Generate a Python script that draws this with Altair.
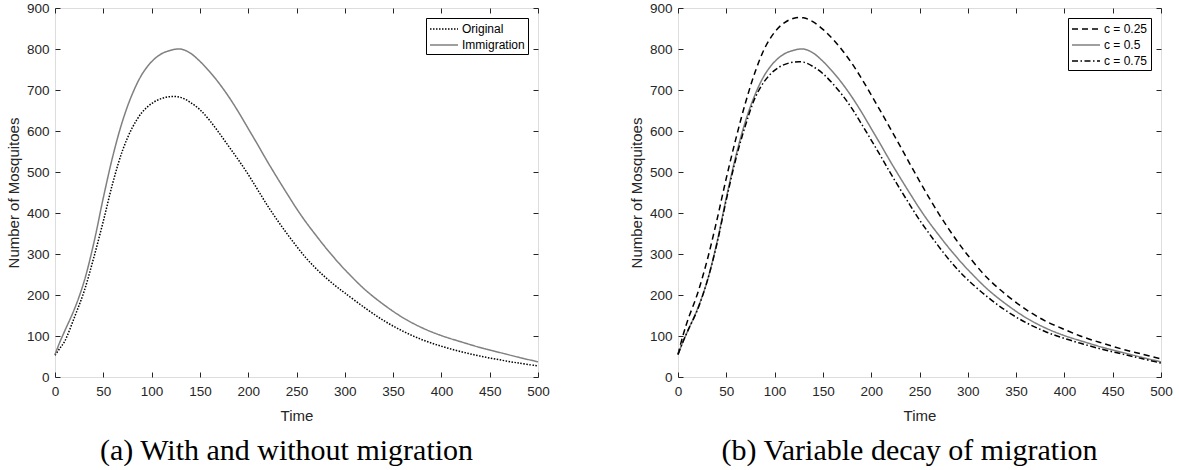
import altair as alt
import pandas as pd

# ---- data ----
time = [0, 5, 10, 20, 30, 40, 50, 60, 70, 80, 90, 100, 110, 120, 130, 140, 150,
        160, 170, 180, 190, 200, 210, 220, 230, 240, 250, 260, 270, 280, 290, 300,
        320, 340, 360, 380, 400, 420, 440, 460, 480, 500]

original = [53, 70, 87, 145, 208, 290, 380, 475, 553, 608, 645, 667, 679, 684, 682, 670, 652,
            626, 595, 562, 529, 494, 456, 418, 383, 350, 319, 290, 265, 243, 223, 205,
            170, 138, 112, 91, 75, 62, 51, 42, 34, 27]

immigration = [55, 85, 112, 165, 232, 325, 437, 540, 625, 690, 738, 769, 788, 797, 800, 790, 770,
               745, 716, 683, 646, 606, 566, 525, 486, 448, 411, 377, 346, 316, 288, 262,
               215, 177, 145, 120, 101, 86, 72, 60, 48, 37]

c025 = [55, 100, 138, 202, 283, 380, 485, 582, 670, 745, 803, 841, 864, 875, 876, 866, 848,
        825, 797, 765, 728, 688, 647, 605, 563, 520, 478, 437, 398, 362, 328, 297,
        242, 200, 165, 137, 116, 97, 82, 68, 56, 44]

c050 = [55, 85, 112, 165, 232, 325, 437, 540, 625, 690, 738, 769, 788, 797, 800, 790, 770,
        745, 716, 683, 646, 606, 566, 525, 486, 448, 411, 377, 346, 316, 288, 262,
        215, 177, 145, 120, 101, 86, 72, 60, 48, 37]

c075 = [55, 85, 112, 163, 232, 322, 432, 533, 615, 682, 723, 748, 762, 768, 768, 757, 740,
        716, 688, 655, 617, 578, 538, 497, 458, 420, 383, 350, 318, 288, 261, 237,
        196, 161, 133, 111, 94, 80, 67, 56, 45, 34]

labels_a = ["Original", "Immigration"]
labels_b = ["c = 0.25", "c = 0.5", "c = 0.75"]
x_ticks = list(range(0, 501, 50))
y_ticks = list(range(0, 901, 100))

FONT = "Liberation Sans"
AX = "#262626"


def long_df(series, names):
    rows = []
    for vals, name in zip(series, names):
        for t, v in zip(time, vals):
            rows.append({"t": t, "v": v, "s": name})
    return pd.DataFrame(rows)


df_a = long_df([original, immigration], labels_a)
df_b = long_df([c025, c050, c075], labels_b)


def panel(df, names, colors, dashes, caption):
    xs = alt.Scale(domain=[0, 500], nice=False, zero=False)
    ys = alt.Scale(domain=[0, 900], nice=False, zero=False)
    common = dict(offset=-5, tickSize=5, domain=False, grid=False,
                  tickColor=AX, tickWidth=1, labelFlush=False)
    x_bot = alt.Axis(values=x_ticks, title="Time", labelPadding=7, titlePadding=11,
                     labelFontSize=13.5, titleFontSize=15, labelColor=AX, titleColor=AX,
                     labelFont=FONT, titleFont=FONT, titleFontWeight="normal", **common)
    y_left = alt.Axis(values=y_ticks, title="Number of Mosquitoes", labelPadding=6,
                      titlePadding=5, labelFontSize=13.5, titleFontSize=15,
                      labelColor=AX, titleColor=AX, labelFont=FONT, titleFont=FONT,
                      titleFontWeight="normal", **common)
    x_top = alt.Axis(values=x_ticks, orient="top", labels=False, title=None, **common)
    y_right = alt.Axis(values=y_ticks, orient="right", labels=False, title=None, **common)

    legend = alt.Legend(title=None, orient="top-right", offset=10, strokeColor="black",
                        fillColor="white", padding=3, symbolType="M-1,0H3",
                        symbolSize=196, symbolStrokeWidth=1.5, labelFontSize=12,
                        labelFont=FONT, labelColor="black", labelOffset=17,
                        rowPadding=2, cornerRadius=0)

    lines = alt.Chart(df).mark_line(interpolate="catmull-rom", strokeWidth=1.5).encode(
        x=alt.X("t:Q", scale=xs, axis=x_bot),
        y=alt.Y("v:Q", scale=ys, axis=y_left),
        color=alt.Color("s:N", scale=alt.Scale(domain=names, range=colors), legend=legend),
        strokeDash=alt.StrokeDash("s:N", scale=alt.Scale(domain=names, range=dashes),
                                  legend=legend),
        detail="s:N",
    )
    frame = alt.Chart(df).mark_line(strokeOpacity=0).encode(
        x=alt.X("t:Q", scale=xs, axis=x_top),
        y=alt.Y("v:Q", scale=ys, axis=y_right),
        detail="s:N",
    )
    return alt.layer(lines, frame).resolve_axis(x="independent", y="independent").properties(
        width=483, height=369,
        title=alt.Title(caption, orient="bottom", anchor="middle", frame="group",
                        font="Liberation Serif", fontSize=30, fontWeight="normal",
                        color="black", offset=12, dx=-10),
    )


pa = panel(df_a, labels_a, ["#000000", "#808080"], [[1.5, 1.5], [1, 0]],
           "(a) With and without migration")
pb = panel(df_b, labels_b, ["#000000", "#808080", "#000000"],
           [[6, 4], [1, 0], [6, 2.5, 1.5, 2.5]], "(b) Variable decay of migration")

chart = alt.hconcat(pa, pb, spacing=78).resolve_scale(
    color="independent", strokeDash="independent"
).resolve_legend(
    color="independent", strokeDash="independent"
).properties(
    padding={"left": 5, "top": 0, "right": 1, "bottom": 0}
).configure_view(stroke=AX, strokeWidth=1).configure(background="white")

chart.save("out.html", embed_options={"renderer": "svg", "actions": False})
